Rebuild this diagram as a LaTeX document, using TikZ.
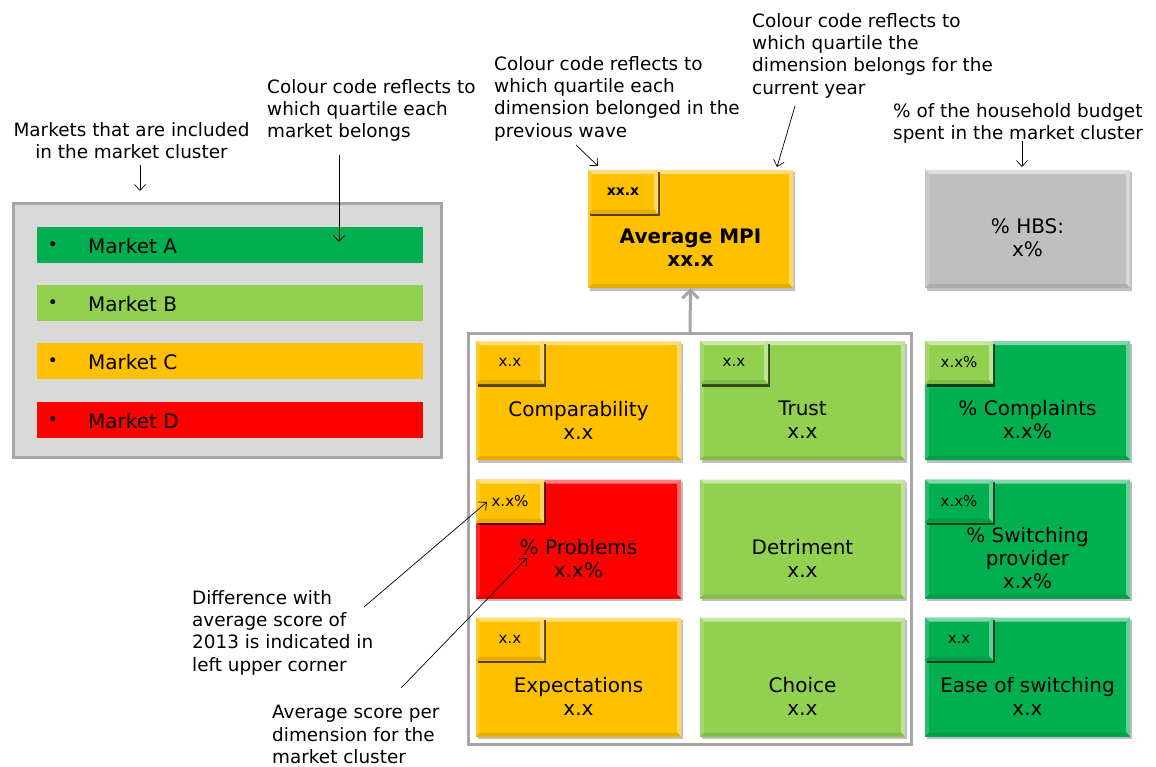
\documentclass[tikz,border=0pt]{standalone}
\usepackage{fontspec}
\setmainfont{DejaVu Sans}
\usetikzlibrary{arrows.meta}

\definecolor{mgreen}{HTML}{00B050}
\definecolor{mlight}{HTML}{92D050}
\definecolor{morange}{HTML}{FFC000}
\definecolor{mred}{HTML}{FF0000}
\definecolor{mgrey}{HTML}{BFBFBF}
\definecolor{panelgrey}{HTML}{D9D9D9}
\definecolor{framegrey}{HTML}{A6A6A6}

\newcommand{\notefont}{\fontsize{18.4}{22.4}\selectfont}
\newcommand{\tilefont}{\fontsize{20}{23}\selectfont}
\newcommand{\cornerfont}{\fontsize{15}{18}\selectfont}

\tikzset{
  bevel/.style={path picture={
    \fill[#1!50!white] (path picture bounding box.north west) -- (path picture bounding box.north east)
      -- ([shift={(-4pt,-4pt)}]path picture bounding box.north east) -- ([shift={(4pt,-4pt)}]path picture bounding box.north west) -- cycle;
    \fill[#1!85!white] (path picture bounding box.north west) -- ([shift={(4pt,-4pt)}]path picture bounding box.north west)
      -- ([shift={(4pt,4pt)}]path picture bounding box.south west) -- (path picture bounding box.south west) -- cycle;
    \fill[#1!60!white] (path picture bounding box.north east) -- ([shift={(-4pt,-4pt)}]path picture bounding box.north east)
      -- ([shift={(-4pt,4pt)}]path picture bounding box.south east) -- (path picture bounding box.south east) -- cycle;
    \fill[#1!90!black] (path picture bounding box.south west) -- ([shift={(4pt,4pt)}]path picture bounding box.south west)
      -- ([shift={(-4pt,4pt)}]path picture bounding box.south east) -- (path picture bounding box.south east) -- cycle;
  }},
  boxshadow/.style={preaction={fill=black, opacity=#1, transform canvas={shift={(1.5pt,-2.5pt)}}}},
  tile/.style={boxshadow=.25, fill=#1, bevel=#1, minimum width=205pt, minimum height=119pt, inner sep=0pt},
  corner/.style={tile=#1, boxshadow=.55, minimum width=68pt, minimum height=43pt,
    anchor=north west, font=\cornerfont},
  tiletext/.style={align=center, inner sep=0pt, font=\tilefont},
  bar/.style={fill=#1, minimum width=386pt, minimum height=36pt, inner sep=0pt, anchor=north west},
  note/.style={align=left, anchor=north west, inner sep=0pt, font=\notefont},
  note arrow/.style={-{Straight Barb[length=6pt,width=11pt]}, line width=.7pt},
}

\begin{document}
\begin{tikzpicture}[x=1pt,y=-1pt]
\useasboundingbox[fill=white] (0,0) rectangle (1156,767);

%Markets
\node[draw=framegrey, line width=3pt, fill=panelgrey, minimum width=428pt, minimum height=254pt, inner sep=0pt] (panel) at (227.5,330.5) {};
\foreach \c/\t/\y in {mgreen/A/227, mlight/B/285, morange/C/343, mred/D/402}{
  \node[bar=\c] (mkt\t) at (37,\y) {};
  \node[font=\fontsize{17}{17}\selectfont, inner sep=0pt] at ([xshift=16pt,yshift=-1pt]mkt\t.west) {\textbullet};
  \node[anchor=west, inner sep=0pt, font=\tilefont] at ([xshift=51pt,yshift=-1pt]mkt\t.west) {Market \t};
}

%Average MPI and HBS
\node[tile=morange, minimum height=118pt] (mpi) at (690.5,229) {};
\node[corner=morange, minimum width=70pt, minimum height=44pt, font=\fontsize{14}{16}\selectfont\bfseries] (mpiv) at (mpi.north west) {xx.x};
\node[tiletext, font=\tilefont\bfseries] (mpit) at ([yshift=-18.5pt]mpi.center) {Average MPI\\xx.x};
\node[tile=mgrey, minimum height=118pt] (hbs) at (1027.5,229) {};
\node[tiletext] (hbst) at ([yshift=-9pt]hbs.center) {\% HBS:\\x\%};

%Dimensions
\node[draw=framegrey, line width=3pt, fill=white, minimum width=443pt, minimum height=411pt, inner sep=0pt] (frame) at (690,539) {};
\draw[framegrey, line width=3pt, -{Straight Barb[length=8pt,width=16pt]}] (frame.north) -- (mpi.south);

\node[tile=morange] (cmp) at (578.5,400.5) {};
\node[tile=mlight] (tru) at (802.5,400.5) {};
\node[tile=mgreen] (com) at (1027.5,400.5) {};
\node[tile=mred] (pro) at (578.5,539) {};
\node[tile=mlight] (det) at (802.5,539) {};
\node[tile=mgreen] (swi) at (1027.5,539) {};
\node[tile=morange] (exp) at (578.5,677) {};
\node[tile=mlight] (cho) at (802.5,677) {};
\node[tile=mgreen] (eas) at (1027.5,677) {};

\node[corner=morange] (cmpv) at (cmp.north west) {x.x};
\node[corner=mlight] (truv) at (tru.north west) {x.x};
\node[corner=mlight] (comv) at (com.north west) {x.x\%};
\node[corner=morange] (prov) at (pro.north west) {x.x\%};
\node[corner=mgreen] (swiv) at (swi.north west) {x.x\%};
\node[corner=morange] (expv) at (exp.north west) {x.x};
\node[corner=mgreen] (easv) at (eas.north west) {x.x};

\node[tiletext] (cmpt) at ([yshift=-19.5pt]cmp.center) {Comparability\\x.x};
\node[tiletext] (trut) at ([yshift=-19.5pt]tru.center) {Trust\\x.x};
\node[tiletext] (comt) at ([yshift=-19.5pt]com.center) {\% Complaints\\x.x\%};
\node[tiletext] (prot) at ([yshift=-19.5pt]pro.center) {\% Problems\\x.x\%};
\node[tiletext] (dett) at ([yshift=-19.5pt]det.center) {Detriment\\x.x};
\node[tiletext] (swit) at ([yshift=-19.5pt]swi.center) {\% Switching\\provider\\x.x\%};
\node[tiletext] (expt) at ([yshift=-19.5pt]exp.center) {Expectations\\x.x};
\node[tiletext] (chot) at ([yshift=-19.5pt]cho.center) {Choice\\x.x};
\node[tiletext] (east) at ([yshift=-19.5pt]eas.center) {Ease of switching\\x.x};

%Notes
\node[note, align=center, anchor=north] (notemkt) at (131.5,122) {Markets that are included\\in the market cluster};
\node[note] (notequart) at (267,79) {Colour code reflects to\\which quartile each\\market belongs};
\node[note] (noteprev) at (494,56) {Colour code reflects to\\which quartile each\\dimension belonged in the\\previous wave};
\node[note] (notecurr) at (752,13) {Colour code reflects to\\which quartile the\\dimension belongs for the\\current year};
\node[note] (notehbs) at (893,103) {\% of the household budget\\spent in the market cluster};
\node[note] (notediff) at (192,590) {Difference with\\average score of\\2013 is indicated in\\left upper corner};
\node[note] (noteavg) at (272,705) {Average score per\\dimension for the\\market cluster};

%Note arrows
\coordinate (mkt s) at (140,165);   \coordinate (mkt e) at (140,191);
\coordinate (quart s) at (339,155); \coordinate (quart e) at (339,242);
\coordinate (prev s) at (576,145);  \coordinate (prev e) at (598,166);
\coordinate (curr s) at (795,106);  \coordinate (curr e) at (777,167);
\coordinate (hbs s) at (1022,141);  \coordinate (hbs e) at (1022,167);
\coordinate (diff s) at (364,607);  \coordinate (diff e) at (487,502);
\coordinate (avg s) at (401,688);   \coordinate (avg e) at (527,558);
\draw[note arrow] (mkt s) -- (mkt e);
\draw[note arrow] (quart s) -- (quart e);
\draw[note arrow] (prev s) -- (prev e);
\draw[note arrow] (curr s) -- (curr e);
\draw[note arrow] (hbs s) -- (hbs e);
\draw[note arrow] (diff s) -- (diff e);
\draw[note arrow] (avg s) -- (avg e);

\end{tikzpicture}
\end{document}
